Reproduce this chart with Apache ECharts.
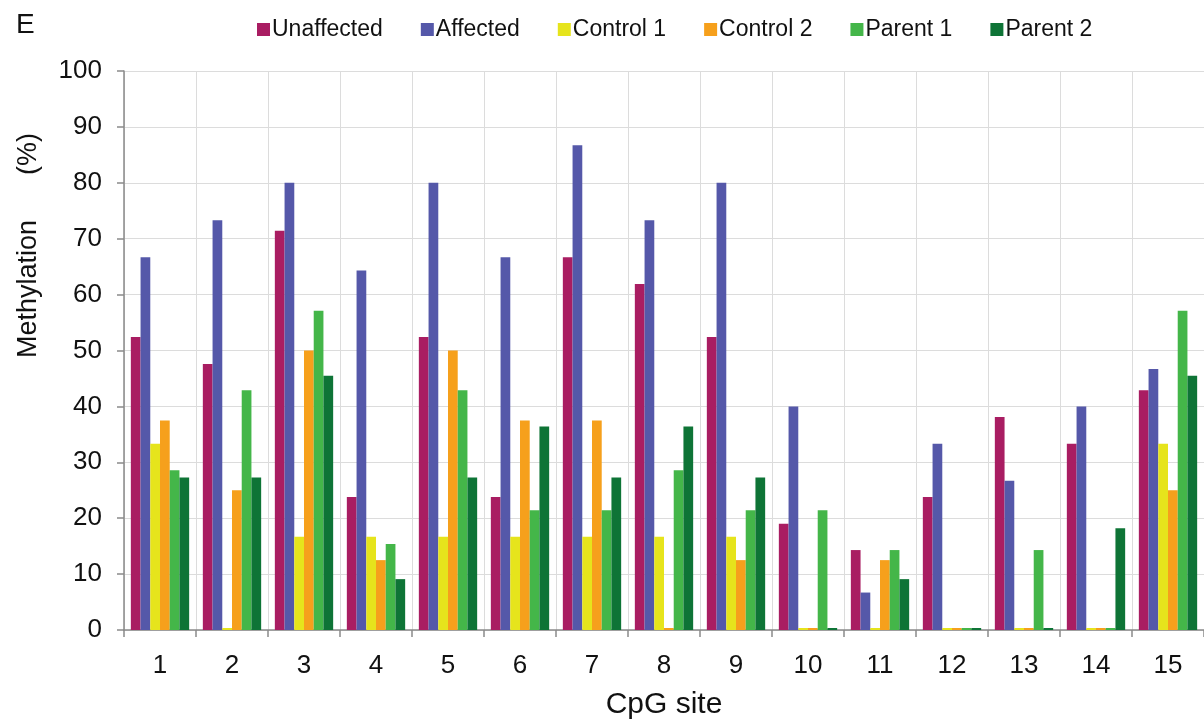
<!DOCTYPE html>
<html>
<head>
<meta charset="utf-8">
<script src="https://cdn.jsdelivr.net/npm/echarts@6/dist/echarts.min.js"></script>
<style>
html,body{margin:0;padding:0;background:#fff;}
#chart{width:1204px;height:725px;}
</style>
</head>
<body>
<div id="chart"></div>
<script>
const categories = ['1','2','3','4','5','6','7','8','9','10','11','12','13','14','15'];
const seriesNames = ['Unaffected','Affected','Control 1','Control 2','Parent 1','Parent 2'];
const unaffected = [52.4, 47.6, 71.4, 23.8, 52.4, 23.8, 66.7, 61.9, 52.4, 19.0, 14.3, 23.8, 38.1, 33.3, 42.9];
const affected   = [66.7, 73.3, 80.0, 64.3, 80.0, 66.7, 86.7, 73.3, 80.0, 40.0, 6.7, 33.3, 26.7, 40.0, 46.7];
const control1   = [33.3, 0, 16.7, 16.7, 16.7, 16.7, 16.7, 16.7, 16.7, 0, 0, 0, 0, 0, 33.3];
const control2   = [37.5, 25.0, 50.0, 12.5, 50.0, 37.5, 37.5, 0, 12.5, 0, 12.5, 0, 0, 0, 25.0];
const parent1    = [28.6, 42.9, 57.1, 15.4, 42.9, 21.4, 21.4, 28.6, 21.4, 21.4, 14.3, 0, 14.3, 0, 57.1];
const parent2    = [27.3, 27.3, 45.5, 9.1, 27.3, 36.4, 27.3, 36.4, 27.3, 0, 9.1, 0, 0, 18.2, 45.5];
const yTicks = [0,10,20,30,40,50,60,70,80,90,100];
const colors = ['#A91D62','#5558A9','#E6E41C','#F6A01C','#44B649','#0E7436'];
const allData = [unaffected, affected, control1, control2, parent1, parent2];

const chart = echarts.init(document.getElementById('chart'), null, {renderer:'canvas'});
const font = '"Liberation Sans", Arial, Helvetica, sans-serif';
chart.setOption({
  animation: false,
  color: colors,
  textStyle: {fontFamily: font},
  title: {
    text: 'E', left: 11, top: 6,
    textStyle: {fontFamily: font, fontSize: 28, fontWeight: 'normal', color: '#111'}
  },
  legend: {
    data: seriesNames,
    left: 252, top: 13,
    itemWidth: 13, itemHeight: 13, itemGap: 38,
    icon: 'rect',
    textStyle: {fontFamily: font, fontSize: 23, color: '#111', padding: [0,0,0,-3]}
  },
  grid: {left: 124, right: -3, top: 71, bottom: 94, containLabel: false},
  xAxis: {
    type: 'category',
    data: categories,
    name: 'CpG site',
    nameLocation: 'middle',
    nameGap: 60,
    nameTextStyle: {fontFamily: font, fontSize: 30, color: '#111'},
    axisLine: {lineStyle: {color: '#8a8a8a', width: 1.5}},
    axisTick: {show: true, length: 7, lineStyle: {color: '#8a8a8a', width: 1.5}},
    axisLabel: {fontFamily: font, fontSize: 26, color: '#111', margin: 23},
    splitLine: {show: true, lineStyle: {color: '#dcdcdc', width: 1}}
  },
  yAxis: {
    type: 'value',
    min: 0, max: 100, interval: 10,
    name: 'Methylation      (%)',
    nameLocation: 'middle',
    nameGap: 82,
    nameRotate: 90,
    nameTextStyle: {fontFamily: font, fontSize: 27, color: '#111', padding: [0,0,0,210]},
    axisLine: {show: true, lineStyle: {color: '#8a8a8a', width: 1.5}},
    axisTick: {show: true, length: 7, lineStyle: {color: '#8a8a8a', width: 1.5}},
    axisLabel: {fontFamily: font, fontSize: 26, color: '#111', margin: 22,
      formatter: v => yTicks.includes(v) ? String(v) : ''},
    splitLine: {show: true, lineStyle: {color: '#dcdcdc', width: 1}}
  },
  series: seriesNames.map((n, i) => ({
    name: n,
    type: 'bar',
    data: allData[i],
    barGap: '0%',
    barCategoryGap: '19%',
    barMinHeight: 2,
    itemStyle: {color: colors[i]}
  }))
});
</script>
</body>
</html>
